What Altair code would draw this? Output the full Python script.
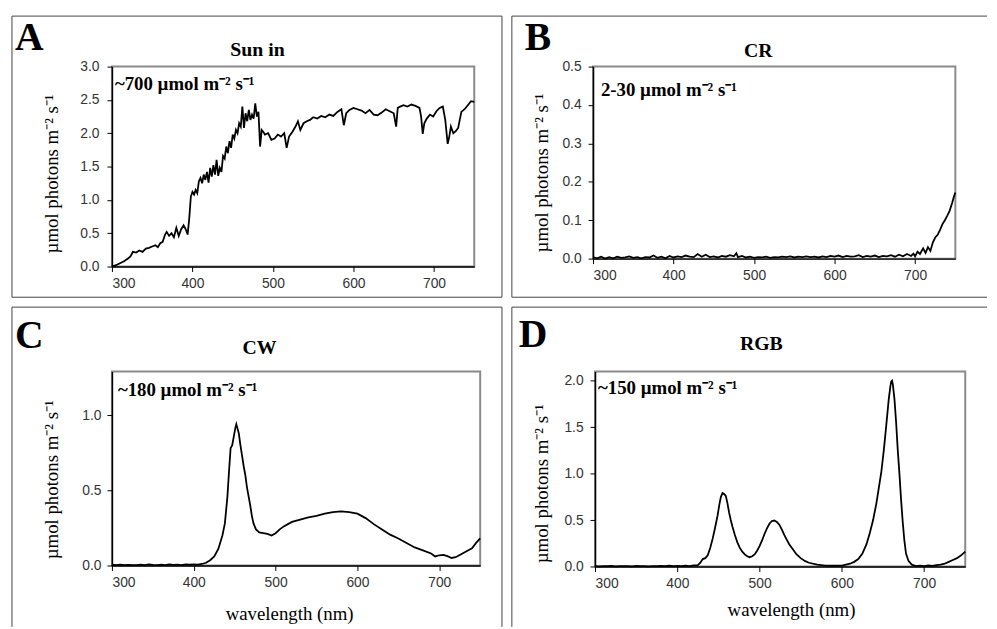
import altair as alt
import pandas as pd

# ---------------- data ----------------
sun_wl = [300, 305, 310, 315, 320, 323, 326, 330, 334, 338,
          342, 346, 350, 354, 357, 360, 363, 366, 368, 371,
          374, 377, 380, 383, 386, 389, 392, 394, 396, 398,
          400, 402, 404, 406, 408, 410, 412, 414, 416, 418,
          420, 422, 424, 426, 428, 430, 432, 434, 436, 438,
          440, 442, 444, 446, 448, 450, 452, 454, 456, 458,
          460, 462, 464, 466, 468, 470, 472, 474, 476, 478,
          480, 482, 484, 486, 488, 490, 494, 498, 502, 506,
          510, 514, 517, 520, 524, 528, 531, 534, 538, 542,
          546, 550, 555, 560, 565, 570, 575, 580, 585, 588,
          591, 595, 600, 605, 610, 615, 620, 625, 630, 635,
          640, 645, 650, 653, 655, 658, 662, 667, 672, 677,
          682, 684, 686, 688, 691, 695, 699, 703, 707, 711,
          714, 717, 719, 721, 724, 727, 730, 734, 738, 742,
          746, 750]
sun_val = [0.00, 0.02, 0.05, 0.08, 0.12, 0.15, 0.22, 0.21, 0.24, 0.22,
           0.27, 0.28, 0.30, 0.32, 0.29, 0.35, 0.37, 0.48, 0.52, 0.46,
           0.50, 0.44, 0.58, 0.46, 0.56, 0.62, 0.55, 0.48, 0.72, 1.05,
           1.12, 1.08, 1.15, 1.10, 1.28, 1.33, 1.25, 1.38, 1.30, 1.42,
           1.26, 1.48, 1.35, 1.52, 1.38, 1.60, 1.36, 1.48, 1.42, 1.66,
           1.62, 1.80, 1.70, 1.88, 1.78, 1.98, 1.92, 2.05, 2.00, 2.15,
           2.10, 2.40, 2.08, 2.30, 2.18, 2.35, 2.20, 2.28, 2.22, 2.45,
           2.25, 2.32, 1.80, 2.05, 2.02, 1.98, 2.00, 1.90, 1.92, 1.98,
           1.95, 2.00, 1.78, 1.95, 2.02, 2.10, 2.18, 2.05, 2.15, 2.18,
           2.20, 2.24, 2.22, 2.26, 2.24, 2.28, 2.26, 2.32, 2.36, 2.12,
           2.30, 2.35, 2.38, 2.36, 2.34, 2.30, 2.35, 2.28, 2.27, 2.31,
           2.36, 2.33, 2.30, 2.10, 2.38, 2.40, 2.42, 2.40, 2.43, 2.41,
           2.38, 2.25, 1.99, 2.15, 2.22, 2.28, 2.25, 2.33, 2.38, 2.40,
           2.20, 1.84, 1.95, 2.10, 2.00, 2.03, 2.08, 2.32, 2.36, 2.42,
           2.48, 2.47]

cr_wl = [300, 305, 310, 315, 320, 325, 330, 335, 340, 345,
         350, 355, 360, 365, 370, 375, 380, 385, 390, 395,
         400, 405, 410, 415, 420, 425, 430, 435, 440, 445,
         450, 455, 460, 465, 470, 475, 478, 480, 485, 490,
         495, 500, 505, 510, 515, 520, 525, 530, 535, 540,
         545, 550, 555, 560, 565, 570, 575, 580, 585, 590,
         595, 600, 605, 610, 615, 620, 625, 630, 635, 640,
         645, 650, 655, 660, 665, 670, 675, 680, 685, 690,
         695, 698, 700, 703, 706, 710, 713, 716, 719, 722,
         725, 728, 731, 734, 737, 740, 743, 746, 748, 750]
cr_val = [0.004, 0.001, 0.005, 0.000, 0.004, 0.001, 0.005, 0.002, 0.003, 0.006,
          0.002, 0.004, 0.001, 0.004, 0.003, 0.008, 0.002, 0.005, 0.001, 0.007,
          0.003, 0.006, 0.004, 0.008, 0.005, 0.004, 0.012, 0.005, 0.010, 0.004,
          0.006, 0.003, 0.007, 0.005, 0.009, 0.006, 0.014, 0.004, 0.007, 0.003,
          0.005, 0.002, 0.004, 0.003, 0.005, 0.002, 0.004, 0.003, 0.005, 0.004,
          0.006, 0.003, 0.005, 0.004, 0.006, 0.004, 0.005, 0.003, 0.006, 0.004,
          0.007, 0.005, 0.008, 0.004, 0.007, 0.005, 0.006, 0.009, 0.004, 0.007,
          0.005, 0.008, 0.004, 0.007, 0.006, 0.009, 0.005, 0.010, 0.006, 0.012,
          0.007, 0.013, 0.006, 0.018, 0.012, 0.027, 0.015, 0.030, 0.020, 0.042,
          0.055, 0.062, 0.075, 0.090, 0.100, 0.112, 0.125, 0.145, 0.160, 0.172]

cw_wl = [300, 305, 310, 315, 320, 325, 330, 335, 340, 345,
         350, 355, 360, 365, 370, 375, 380, 385, 390, 395,
         400, 405, 410, 415, 420, 425, 430, 435, 438, 441,
         443, 445, 447, 449, 451, 452, 453, 455, 457, 459,
         461, 463, 465, 467, 469, 471, 473, 476, 480, 485,
         490, 495, 500, 505, 510, 515, 520, 530, 540, 550,
         560, 570, 580, 590, 600, 610, 620, 630, 640, 650,
         660, 670, 680, 690, 695, 700, 705, 710, 715, 720,
         725, 730, 735, 740, 745, 750]
cw_val = [0.005, 0.003, 0.006, 0.002, 0.004, 0.003, 0.002, 0.005, 0.003, 0.008,
          0.004, 0.002, 0.005, 0.003, 0.007, 0.004, 0.006, 0.003, 0.008, 0.005,
          0.007, 0.006, 0.010, 0.018, 0.035, 0.060, 0.110, 0.200, 0.280, 0.450,
          0.620, 0.780, 0.800, 0.860, 0.920, 0.940, 0.920, 0.880, 0.800, 0.730,
          0.660, 0.600, 0.520, 0.460, 0.400, 0.330, 0.280, 0.240, 0.220, 0.215,
          0.210, 0.200, 0.215, 0.240, 0.260, 0.275, 0.290, 0.305, 0.320, 0.330,
          0.345, 0.355, 0.360, 0.355, 0.345, 0.315, 0.275, 0.240, 0.205, 0.180,
          0.150, 0.120, 0.100, 0.080, 0.060, 0.068, 0.070, 0.062, 0.050, 0.055,
          0.070, 0.085, 0.100, 0.115, 0.150, 0.180]

rgb_wl = [300, 305, 310, 315, 320, 325, 330, 335, 340, 345,
          350, 355, 360, 365, 370, 375, 380, 385, 390, 395,
          400, 405, 410, 415, 420, 425, 428, 431, 434, 437,
          440, 443, 446, 449, 451, 453, 455, 457, 459, 461,
          463, 465, 467, 470, 473, 476, 479, 482, 485, 488,
          491, 494, 497, 500, 503, 506, 509, 512, 515, 518,
          521, 524, 527, 530, 533, 536, 540, 545, 550, 555,
          560, 570, 580, 590, 600, 605, 610, 615, 620, 625,
          630, 634, 638, 642, 645, 648, 651, 654, 657, 659,
          660, 661, 662, 664, 666, 668, 670, 672, 674, 676,
          678, 681, 685, 690, 695, 700, 705, 710, 715, 720,
          725, 730, 735, 740, 745, 750]
rgb_val = [0.004, 0.002, 0.005, 0.003, 0.006, 0.002, 0.004, 0.003, 0.005, 0.002,
           0.006, 0.003, 0.004, 0.002, 0.005, 0.003, 0.006, 0.004, 0.008, 0.003,
           0.006, 0.004, 0.010, 0.005, 0.012, 0.015, 0.040, 0.080, 0.090, 0.120,
           0.200, 0.300, 0.420, 0.550, 0.660, 0.750, 0.790, 0.780, 0.760, 0.680,
           0.580, 0.500, 0.430, 0.340, 0.260, 0.200, 0.160, 0.130, 0.110, 0.100,
           0.110, 0.130, 0.170, 0.220, 0.280, 0.350, 0.410, 0.460, 0.490, 0.495,
           0.480, 0.450, 0.400, 0.340, 0.290, 0.240, 0.190, 0.130, 0.090, 0.060,
           0.040, 0.020, 0.010, 0.008, 0.010, 0.020, 0.030, 0.050, 0.080, 0.140,
           0.240, 0.360, 0.500, 0.680, 0.850, 1.020, 1.250, 1.520, 1.800, 1.940,
           1.990, 2.000, 1.960, 1.800, 1.550, 1.250, 1.000, 0.720, 0.480, 0.280,
           0.140, 0.060, 0.020, 0.005, 0.010, 0.004, 0.012, 0.006, 0.015, 0.020,
           0.030, 0.050, 0.070, 0.090, 0.120, 0.160]

x_ticks = [300, 400, 500, 600, 700]
y_title = "µmol photons m⁻² s⁻¹"
x_title = "wavelength (nm)"

SERIF = "Liberation Serif"
SANS = "Liberation Sans"
BOX = "#444444"

dummy = pd.DataFrame({"k": [0]})


def panel(wl, val, w, h, ymax, yticks, letter, title, note, g):
    df = pd.DataFrame({"wl": wl, "v": val})
    xaxis = dict(values=x_ticks, format="d", labelPadding=5)
    if g.get("xtitle"):
        xaxis.update(title=x_title, titleX=g["xtx"], titleY=g["xty"],
                     titleBaseline="alphabetic")
    else:
        xaxis.update(title=None)
    line = alt.Chart(df).mark_line(color="black", strokeWidth=1.8).encode(
        x=alt.X("wl:Q", scale=alt.Scale(domain=[300, 750], nice=False, zero=False),
                axis=alt.Axis(**xaxis)),
        y=alt.Y("v:Q", scale=alt.Scale(domain=[0, ymax], nice=False, zero=True),
                axis=alt.Axis(values=yticks, format=".1f", title=y_title,
                              titleX=g["ytx"], titleY=g["yty"],
                              titleBaseline="alphabetic",
                              labelPadding=g["lp"])),
    )
    base = alt.Chart(dummy)
    layers = [line]
    lt = base.mark_text(text=letter, font=SERIF, fontWeight="bold", fontSize=40,
                        align="left", baseline="alphabetic", color="black").encode(
        x=alt.value(g["lx"]), y=alt.value(g["ly"]))
    tt = base.mark_text(text=title, font=SERIF, fontWeight="bold", fontSize=20,
                        align="center", baseline="alphabetic", color="black").encode(
        x=alt.value(g["tx"]), y=alt.value(g["ty"]))
    nt = base.mark_text(text=note, font=SERIF, fontWeight="bold", fontSize=19,
                        align="left", baseline="alphabetic", color="black").encode(
        x=alt.value(g["nx"]), y=alt.value(g["ny"]))
    layers += [lt, tt, nt]
    bx0, bx1, by0, by1 = g["box"]
    sides = g["sides"]
    rule = base.mark_rule(color=BOX, strokeWidth=1)
    if "top" in sides:
        layers.append(rule.encode(x=alt.value(bx0), x2=alt.value(bx1), y=alt.value(by0)))
    if "bottom" in sides:
        layers.append(rule.encode(x=alt.value(bx0), x2=alt.value(bx1), y=alt.value(by1)))
    if "left" in sides:
        layers.append(rule.encode(x=alt.value(bx0), y=alt.value(by0), y2=alt.value(by1)))
    if "right" in sides:
        layers.append(rule.encode(x=alt.value(bx1), y=alt.value(by0), y2=alt.value(by1)))
    return alt.layer(*layers).properties(width=w, height=h)


pA = panel(sun_wl, sun_val, 366, 202, 3.0, [0, 0.5, 1.0, 1.5, 2.0, 2.5, 3.0],
           "A", "Sun in", "~700 µmol m⁻² s⁻¹",
           dict(ytx=-55, yty=108, lp=8, lx=-98, ly=-17, tx=147, ty=-11,
                nx=3, ny=24, box=(-101, 394, -51, 233),
                sides=("top", "bottom", "left", "right")))
pB = panel(cr_wl, cr_val, 366, 194, 0.5, [0, 0.1, 0.2, 0.3, 0.4, 0.5],
           "B", "CR", "2-30 µmol m⁻² s⁻¹",
           dict(ytx=-46, yty=107, lp=7, lx=-69, ly=-17, tx=167, ty=-10,
                nx=8, ny=30, box=(-82, 398, -51, 233),
                sides=("top", "bottom", "left")))
pC = panel(cw_wl, cw_val, 372, 196, 1.29, [0, 0.5, 1.0],
           "C", "CW", "~180 µmol m⁻² s⁻¹",
           dict(ytx=-55, yty=109, lp=6, lx=-98, ly=-24, tx=149, ty=-18,
                nx=6, ny=25, box=(-101, 394, -65, 258),
                sides=("top", "left", "right"),
                xtitle=True, xtx=179, xty=55))
pD = panel(rgb_wl, rgb_val, 374, 197, 2.1, [0, 0.5, 1.0, 1.5, 2.0],
           "D", "RGB", "~150 µmol m⁻² s⁻¹",
           dict(ytx=-48, yty=113, lp=7, lx=-77, ly=-25, tx=168, ty=-22,
                nx=3, ny=23, box=(-84, 396, -65, 258),
                sides=("top", "left"),
                xtitle=True, xtx=198, xty=50))

# plot-area ("flush") layout: spacings are distances between plot areas
# (the nested rows count with zero height, so the row spacing is the
#  distance between the two rows' plot tops)
top = alt.hconcat(pA, pB, spacing=120, bounds="flush")
bottom = alt.hconcat(pC, pD, spacing=116, bounds="flush")

chart = alt.vconcat(top, bottom, spacing=308, bounds="flush").properties(
    padding={"left": 2, "top": 3, "right": 0, "bottom": 0},
    background="white",
).configure_view(
    stroke="#8a8a8a", strokeWidth=2
).configure_axis(
    grid=False,
    labelFont=SANS, labelFontSize=14, labelColor="#333333",
    tickColor="black", tickSize=5, tickWidth=1,
    domainColor="black", domainWidth=1.5,
    titleFont=SERIF, titleFontSize=19, titleFontWeight="normal", titleColor="black",
)

chart.save("out.html", embed_options={"renderer": "svg", "actions": False})
